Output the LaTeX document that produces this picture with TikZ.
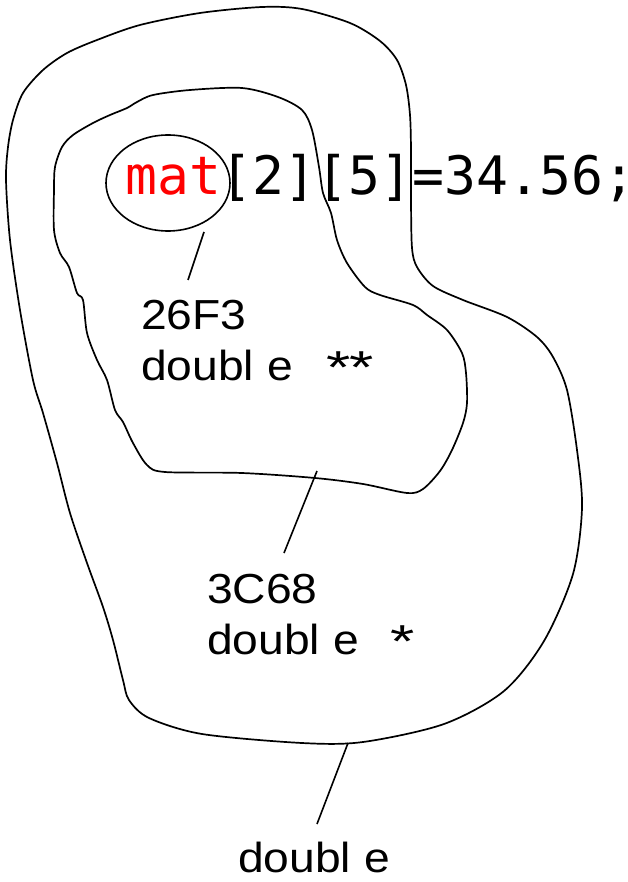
\documentclass[tikz,border=0pt]{standalone}
\usepackage{fontspec}
\usepackage{graphicx}
\setmainfont{Liberation Sans}
\newfontfamily\labelfont[FakeStretch=1.1]{Liberation Sans}
\newfontfamily\codefont{DejaVu Sans Mono}
\usetikzlibrary{shapes.geometric}
\definecolor{codered}{RGB}{255,0,0}
\newcommand{\onestar}{\raisebox{-3pt}{\scalebox{1.35}[1.1]{*}}}
\tikzset{
  contour/.style={line width=1.7pt, line join=round},
  leader/.style={line width=1.6pt},
  label/.style={inner sep=0pt, anchor=north west, align=left, font=\labelfont\fontsize{42}{51}\selectfont},
}
\begin{document}
\begin{tikzpicture}[x=1pt,y=-1pt]
\useasboundingbox (0,0) rectangle (628,882);
% outer contour
\draw[contour] plot[smooth cycle, tension=0.5] coordinates {
(262,7) (302,9) (350,23) (380,41) (397,60) (406,85) (410,115) (411,150) (411,200) (412,248) (417,267) (433,286) (463,300) (507,317) (537,337) (553,357) (567,390) (577,450) (582,508) (573,574) (544,641) (504,691) (444,724) (363,742) (302,743) (202,734) (149,718) (129,700) (123,680) (113,640) (103,607) (87,563) (70,513) (57,463) (43,413) (33,380) (20,310) (10,240) (6,180) (8,147) (13,120) (23,93) (43,70) (67,53) (97,40) (140,25) (200,13)};
% inner contour
\draw[contour] plot[smooth cycle, tension=0.5] coordinates {
(153,95) (190,90) (242,88) (278,97) (302,110) (312,130) (319,167) (323,193) (331,213) (337,240) (347,263) (365,287) (380,295) (413,305) (427,315) (447,330) (462,353) (466,373) (467,403) (463,423) (452,450) (440,471) (423,489) (407,493) (363,484) (315,478) (242,473) (165,472) (147,465) (133,443) (123,422) (115,410) (107,380) (97,360) (87,333) (83,300) (77,293) (69,267) (60,253) (54,230) (54,190) (55,167) (62,147) (73,135) (93,123) (110,115) (127,108) (137,102)};
% code line
\node[inner sep=0pt, anchor=base west, font=\codefont\fontsize{53}{60}\selectfont] (code) at (125,195) {\textcolor{codered}{mat}[2][5]=34.56;};
\node[draw, ellipse, line width=1.6pt, minimum width=124pt, minimum height=96pt, inner sep=0pt] (ell) at (168,183) {};
% labels
\node[label] (l1) at (141,300) {26F3\\doubl e\hspace{34pt}\onestar\hspace{-2pt}\onestar};
\node[label] (l2) at (207,574) {3C68\\doubl e\hspace{32pt}\onestar};
\node[label] (l3) at (238,842) {doubl e};
% leaders
\coordinate (a1) at (204,232);
\coordinate (b1) at (188,280);
\coordinate (a2) at (317,471);
\coordinate (b2) at (284,553);
\coordinate (a3) at (348,743);
\coordinate (b3) at (317,824);
\draw[leader] (a1) -- (b1);
\draw[leader] (a2) -- (b2);
\draw[leader] (a3) -- (b3);
\end{tikzpicture}
\end{document}
